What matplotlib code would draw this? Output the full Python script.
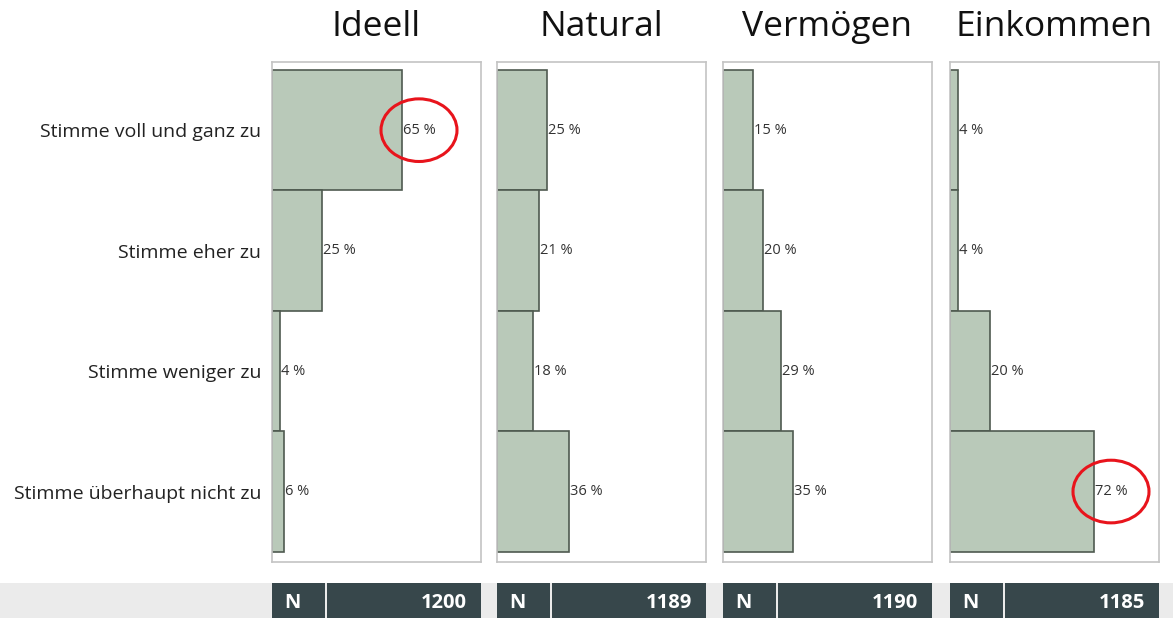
import numpy as np
import matplotlib.pyplot as plt
from matplotlib.patches import Rectangle, Ellipse

# --- Data ---
categories = ['Stimme voll und ganz zu', 'Stimme eher zu',
              'Stimme weniger zu', 'Stimme überhaupt nicht zu']
panels = ['Ideell', 'Natural', 'Vermögen', 'Einkommen']
ideell = [65, 25, 4, 6]
natural = [25, 21, 18, 36]
vermoegen = [15, 20, 29, 35]
einkommen = [4, 4, 20, 72]
n_values = [1200, 1189, 1190, 1185]
highlight = [(0, 0), (3, 3)]  # (panel, category) circled in red

series = [ideell, natural, vermoegen, einkommen]

# --- Layout (pixels) ---
W, H = 1173, 618
panel_left = [272, 497, 723, 950]
panel_w = 209
top_px, bot_px = 62, 562

BAR = '#b9c9b9'
EDGE = '#4f5a50'
DARK = '#37474b'

plt.rcParams['font.family'] = ['Open Sans', 'DejaVu Sans']

fig = plt.figure(figsize=(W / 100, H / 100), dpi=100)

def fx(px):
    return px / W

def fy(py):
    return 1 - py / H

y = np.arange(len(categories))
for i, (name, vals) in enumerate(zip(panels, series)):
    ax = fig.add_axes([fx(panel_left[i]), fy(bot_px),
                       panel_w / W, (bot_px - top_px) / H])
    ax.barh(y, vals, height=1.0, color=BAR, edgecolor=EDGE, linewidth=1.2)
    ax.set_xlim(0, 104.5)
    ax.set_ylim(3.5 + 0.085, -0.5 - 0.066)
    ax.set_xticks([])
    if i == 0:
        ax.set_yticks(y)
        ax.set_yticklabels(categories, fontsize=14, color='#222222')
        ax.tick_params(axis='y', length=0, pad=8)
    else:
        ax.set_yticks([])
    for s in ax.spines.values():
        s.set_color('#c4c4c4')
        s.set_linewidth(1.2)
    for j, v in enumerate(vals):
        ax.text(v + 0.5, j, f'{v} %', va='center', ha='left',
                fontsize=10.5, color='#333333')
    # title baseline ~27 px above the panel box
    ax.text(0.5, 1 + 26 / (bot_px - top_px), name, transform=ax.transAxes,
            ha='center', va='baseline', fontsize=25.5, color='#111111')

    for (pi, cj) in highlight:
        if pi == i:
            v = vals[cj]
            ell = Ellipse((v + 8.5, cj), 38, 0.52, fill=False,
                          edgecolor='#e8141c', linewidth=2.2, clip_on=False)
            ax.add_patch(ell)

# --- bottom N table ---
fig.patches.append(Rectangle((0, 0), 1, fy(583), transform=fig.transFigure,
                             facecolor='#ebebeb', edgecolor='none', zorder=0))
for i, n in enumerate(n_values):
    x0 = panel_left[i]
    fig.patches.append(Rectangle((fx(x0), 0), 53 / W, fy(583),
                                 transform=fig.transFigure, facecolor=DARK,
                                 edgecolor='none', zorder=1))
    fig.patches.append(Rectangle((fx(x0 + 55), 0), (panel_w - 55) / W, fy(583),
                                 transform=fig.transFigure, facecolor=DARK,
                                 edgecolor='none', zorder=1))
    fig.text(fx(x0 + 12), fy(603), 'N', color='white', fontsize=14.5,
             fontweight='bold', va='center', ha='left')
    fig.text(fx(x0 + panel_w - 14), fy(603), str(n), color='white',
             fontsize=14.5, fontweight='bold', va='center', ha='right')

fig.savefig('out.png', dpi=100)
